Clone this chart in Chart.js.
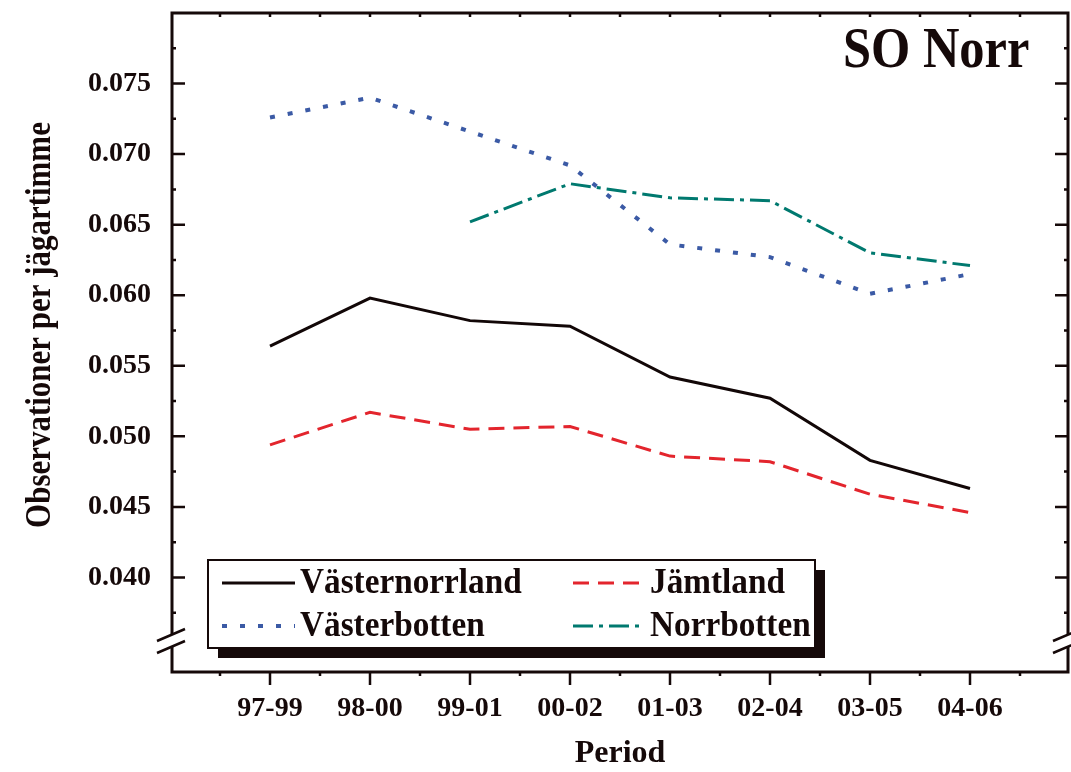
<!DOCTYPE html>
<html>
<head>
<meta charset="utf-8">
<script src="https://cdn.jsdelivr.net/npm/chart.js@4.4.1/dist/chart.umd.min.js"></script>
<style>
  body { margin: 0; background: #fff; }
  #c { display: block; }
</style>
</head>
<body>
<canvas id="c" width="1071" height="772"></canvas>
<script>
// Data
const periods = ['97-99', '98-00', '99-01', '00-02', '01-03', '02-04', '03-05', '04-06'];
const vasternorrland = [0.0564, 0.0598, 0.0582, 0.0578, 0.0542, 0.0527, 0.0483, 0.0463];
const jamtland = [0.0494, 0.0517, 0.0505, 0.0507, 0.0486, 0.0482, 0.0459, 0.0446];
const vasterbotten = [0.0726, 0.0740, 0.0716, 0.0692, 0.0636, 0.0627, 0.0601, 0.0615];
const norrbotten = [null, null, 0.0652, 0.0679, 0.0669, 0.0667, 0.0630, 0.0621];
const yTicks = [0.040, 0.045, 0.050, 0.055, 0.060, 0.065, 0.070, 0.075];

const INK = '#150909';
const SERIF = '"Liberation Serif", "Times New Roman", serif';

const pts = arr => arr.map((v, i) => ({ x: i, y: v }));

// akselinjer, inåtriktade ticks och axelbrott
const framePlugin = {
  id: 'frame',
  afterDatasetsDraw(chart) {
    const { ctx, chartArea: a, scales: { x, y } } = chart;
    ctx.save();
    ctx.strokeStyle = INK;
    ctx.lineWidth = 3;
    ctx.strokeRect(a.left, a.top, a.right - a.left, a.bottom - a.top);
    ctx.lineWidth = 2.5;
    ctx.beginPath();
    // vänster/höger: stora ticks
    yTicks.forEach(v => {
      const py = y.getPixelForValue(v);
      ctx.moveTo(a.left, py); ctx.lineTo(a.left + 13, py);
      ctx.moveTo(a.right, py); ctx.lineTo(a.right - 13, py);
    });
    // små ticks
    const minors = yTicks.map(v => v - 0.0025).concat([0.0775]);
    minors.forEach(v => {
      const py = y.getPixelForValue(v);
      ctx.moveTo(a.left, py); ctx.lineTo(a.left + 4, py);
      ctx.moveTo(a.right, py); ctx.lineTo(a.right - 4, py);
    });
    // topp och botten
    for (let i = -0.5; i <= 7.5; i += 0.5) {
      const px = x.getPixelForValue(i);
      ctx.moveTo(px, a.top); ctx.lineTo(px, a.top + 4);
      const major = Number.isInteger(i);
      ctx.moveTo(px, a.bottom); ctx.lineTo(px, a.bottom + (major ? 13 : 4));
    }
    ctx.stroke();
    // axelbrott
    const by = a.bottom - 32;
    [a.left, a.right].forEach(ax => {
      ctx.fillStyle = '#fff';
      ctx.fillRect(ax - 4, by - 5, 8, 11);
      ctx.beginPath();
      ctx.lineWidth = 2.5;
      ctx.moveTo(ax - 15, by + 1); ctx.lineTo(ax + 13, by - 11);
      ctx.moveTo(ax - 15, by + 13); ctx.lineTo(ax + 13, by + 1);
      ctx.stroke();
    });
    ctx.restore();
  },
  afterDraw(chart) {
    const { ctx } = chart;
    ctx.save();
    ctx.fillStyle = INK;
    // titel
    ctx.font = 'bold 58px ' + SERIF;
    ctx.textBaseline = 'alphabetic';
    ctx.translate(843, 67);
    ctx.scale(0.87, 1);
    ctx.fillText('SO Norr', 0, 0);
    ctx.restore();

    // y-axelns titel
    ctx.save();
    ctx.fillStyle = INK;
    ctx.font = 'bold 36px ' + SERIF;
    ctx.textAlign = 'center';
    ctx.textBaseline = 'middle';
    ctx.translate(41, 325);
    ctx.rotate(-Math.PI / 2);
    ctx.scale(0.86, 1);
    ctx.fillText('Observationer per jägartimme', 0, 0);
    ctx.restore();

    // legend med skugga
    ctx.save();
    ctx.fillStyle = INK;
    ctx.fillRect(218, 570, 607, 88);
    ctx.fillStyle = '#fff';
    ctx.fillRect(208, 560, 607, 88);
    ctx.strokeStyle = INK;
    ctx.lineWidth = 2;
    ctx.strokeRect(208, 560, 607, 88);
    const slots = [[222, 295, 583], [573, 645, 583], [222, 295, 626], [573, 645, 626]];
    chart.data.datasets.forEach((ds, i) => {
      const [x0, x1, yy] = slots[i];
      ctx.beginPath();
      ctx.strokeStyle = ds.borderColor;
      ctx.lineWidth = ds.borderWidth;
      ctx.setLineDash(ds.borderDash || []);
      ctx.moveTo(x0, yy); ctx.lineTo(x1, yy);
      ctx.stroke();
      ctx.setLineDash([]);
      ctx.save();
      ctx.fillStyle = INK;
      ctx.font = 'bold 35px ' + SERIF;
      ctx.textBaseline = 'middle';
      ctx.translate(x1 + 5, yy + 1);
      ctx.scale(0.95, 1);
      ctx.fillText(ds.label, 0, 0);
      ctx.restore();
    });
    ctx.restore();
  }
};

new Chart(document.getElementById('c'), {
  type: 'line',
  data: {
    datasets: [
      { label: 'Västernorrland', data: pts(vasternorrland), borderColor: '#120707', borderWidth: 3 },
      { label: 'Jämtland', data: pts(jamtland), borderColor: '#e3252d', borderWidth: 3, borderDash: [16, 9] },
      { label: 'Västerbotten', data: pts(vasterbotten), borderColor: '#3b5aa5', borderWidth: 4, borderDash: [5, 13] },
      { label: 'Norrbotten', data: pts(norrbotten), borderColor: '#00796f', borderWidth: 3, borderDash: [20, 6, 4, 6] }
    ]
  },
  options: {
    responsive: false,
    animation: false,
    events: [],
    elements: { point: { radius: 0 }, line: { tension: 0 } },
    layout: { padding: { top: 13, right: 3, left: 0, bottom: 0 } },
    plugins: { legend: { display: false }, tooltip: { enabled: false } },
    scales: {
      x: {
        type: 'linear',
        min: -0.98,
        max: 7.98,
        afterBuildTicks: s => { s.ticks = periods.map((p, i) => ({ value: i })); },
        afterFit: s => { s.height = 100; s.paddingLeft = 0; s.paddingRight = 0; },
        grid: { display: false },
        border: { display: false },
        ticks: {
          padding: 12,
          color: INK,
          font: { family: SERIF, size: 28, weight: 'bold' },
          maxRotation: 0,
          callback: v => periods[v]
        },
        title: {
          display: true,
          text: 'Period',
          color: INK,
          font: { family: SERIF, size: 32, weight: 'bold', lineHeight: 1 },
          padding: { top: 0, bottom: 2 }
        }
      },
      y: {
        min: 0.0333,
        max: 0.080,
        afterBuildTicks: s => { s.ticks = yTicks.map(v => ({ value: v })); },
        afterFit: s => { s.width = 172; s.paddingTop = 0; s.paddingBottom = 0; },
        grid: { display: false },
        border: { display: false },
        ticks: {
          padding: 13,
          color: INK,
          font: { family: SERIF, size: 28, weight: 'bold' },
          callback: v => v.toFixed(3)
        }
      }
    }
  },
  plugins: [framePlugin]
});
</script>
</body>
</html>
